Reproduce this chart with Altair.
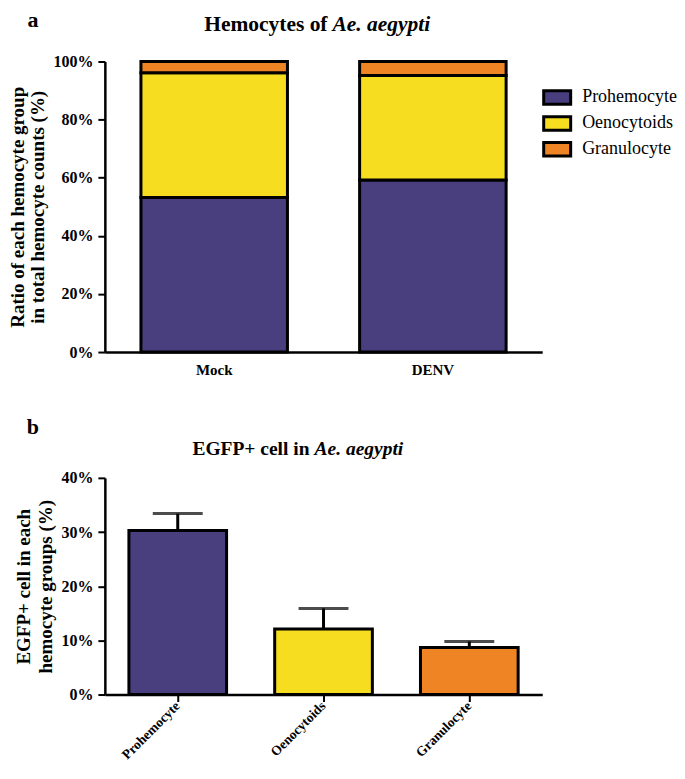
import altair as alt
import pandas as pd

# ---------------- data ----------------
groups = ["Mock", "DENV"]
cell_types = ["Prohemocyte", "Oenocytoids", "Granulocyte"]
mock_ratio = [0.532, 0.429, 0.039]
denv_ratio = [0.592, 0.360, 0.048]
egfp_mean = [0.303, 0.121, 0.087]
egfp_upper = [0.334, 0.159, 0.098]
colors = ["#493E7E", "#F6DD1F", "#EE8423"]

rows = []
for g, vals in zip(groups, [mock_ratio, denv_ratio]):
    for i, (c, v) in enumerate(zip(cell_types, vals)):
        rows.append({"group": g, "cell": c, "ratio": v, "order": i})
df_a = pd.DataFrame(rows)
df_b = pd.DataFrame({"cell": cell_types, "mean": egfp_mean, "upper": egfp_upper})
one = pd.DataFrame({"k": [0]})

FONT = "Liberation Serif"

color_scale = alt.Scale(domain=cell_types, range=colors)

y_axis_common = dict(
    grid=False, domainColor="black", domainWidth=2.5, tickColor="black",
    tickWidth=2, tickSize=7, labelFontSize=16, labelFontWeight="bold",
    labelColor="black", labelPadding=5, labelFont=FONT, titleFont=FONT,
    titleFontSize=19, titleFontWeight="bold",
    titleColor="black", titlePadding=5, format="%",
)

# ---------------- panel a ----------------
bars_a = alt.Chart(df_a).mark_bar(stroke="black", strokeWidth=3).encode(
    x=alt.X("group:N", sort=groups,
            scale=alt.Scale(paddingInner=0.33, paddingOuter=0.165),
            axis=alt.Axis(title=None, labelAngle=0, ticks=False, labelFontSize=15,
                          labelFontWeight="bold", labelColor="black", labelPadding=10,
                          labelFont=FONT, domainColor="black", domainWidth=2.5)),
    y=alt.Y("ratio:Q", stack="zero", scale=alt.Scale(domain=[0, 1]),
            axis=alt.Axis(values=[0, 0.2, 0.4, 0.6, 0.8, 1.0],
                          title=["Ratio of each hemocyte group", "in total hemocyte counts (%)"],
                          titleLineHeight=20, **y_axis_common)),
    color=alt.Color("cell:N", scale=color_scale, sort=cell_types,
                    legend=alt.Legend(title=None, orient="none", legendX=443, legendY=26,
                                      symbolType="M-1.6,-0.8H1.6V0.8H-1.6Z", symbolSize=285,
                                      symbolStrokeColor="black", symbolStrokeWidth=3,
                                      symbolOpacity=1, labelFontSize=18, labelColor="black",
                                      labelFont=FONT, labelOffset=15, rowPadding=0,
                                      padding=0)),
    order=alt.Order("order:Q"),
)

title_a1 = alt.Chart(one).mark_text(text="Hemocytes of", fontSize=21.5, fontWeight="bold",
                                    font=FONT, align="right", baseline="middle",
                                    color="black").encode(
    x=alt.value(223), y=alt.value(-37))
title_a2 = alt.Chart(one).mark_text(text="Ae. aegypti", fontSize=21.5, fontWeight="bold",
                                    font=FONT, fontStyle="italic", align="left",
                                    baseline="middle", color="black").encode(
    x=alt.value(228), y=alt.value(-37))
letter_a = alt.Chart(one).mark_text(text="a", fontSize=22, fontWeight="bold", font=FONT,
                                    align="center", baseline="middle", color="black").encode(
    x=alt.value(-72), y=alt.value(-42))

panel_a = alt.layer(bars_a, title_a1, title_a2, letter_a).properties(width=438, height=291)

# ---------------- panel b ----------------
x_b = alt.X("cell:N", sort=cell_types,
            scale=alt.Scale(paddingInner=0.33, paddingOuter=0.165),
            axis=alt.Axis(title=None, labelAngle=-45, ticks=True, tickSize=7, tickWidth=2,
                          tickColor="black", labelFontSize=13.5, labelFontWeight="bold",
                          labelColor="black", labelPadding=2, labelFont=FONT,
                          domainColor="black", domainWidth=2.5))

bars_b = alt.Chart(df_b).mark_bar(stroke="black", strokeWidth=3).encode(
    x=x_b,
    y=alt.Y("mean:Q", scale=alt.Scale(domain=[0, 0.4]),
            axis=alt.Axis(values=[0, 0.1, 0.2, 0.3, 0.4],
                          title=["EGFP+ cell in each", "hemocyte groups (%)"],
                          titleLineHeight=22, **y_axis_common)),
    color=alt.Color("cell:N", scale=color_scale, legend=None),
)
err_rule = alt.Chart(df_b).mark_rule(color="black", strokeWidth=3).encode(
    x=alt.X("cell:N", sort=cell_types), y="mean:Q", y2="upper:Q")
err_cap = alt.Chart(df_b).mark_tick(color="black", thickness=3, size=50,
                                    orient="horizontal").encode(
    x=alt.X("cell:N", sort=cell_types), y="upper:Q")

title_b1 = alt.Chart(one).mark_text(text="EGFP+ cell in", fontSize=19.5, fontWeight="bold",
                                    font=FONT, align="right", baseline="middle",
                                    color="black").encode(
    x=alt.value(205), y=alt.value(-29))
title_b2 = alt.Chart(one).mark_text(text="Ae. aegypti", fontSize=19.5, fontWeight="bold",
                                    font=FONT, fontStyle="italic", align="left",
                                    baseline="middle", color="black").encode(
    x=alt.value(210), y=alt.value(-29))
letter_b = alt.Chart(one).mark_text(text="b", fontSize=22, fontWeight="bold", font=FONT,
                                    align="center", baseline="middle", color="black").encode(
    x=alt.value(-72), y=alt.value(-51))

panel_b = alt.layer(err_rule, err_cap, bars_b, title_b1, title_b2, letter_b).properties(
    width=438, height=217)

chart = alt.vconcat(panel_a, panel_b, spacing=39).resolve_scale(
    color="independent").resolve_legend(color="independent").properties(
    padding={"left": 0, "top": 0, "right": 0, "bottom": 0}, background="white"
).configure_view(stroke=None).configure_axis(
    labelFont=FONT, titleFont=FONT
).configure_legend(labelFont=FONT).configure_text(font=FONT)

chart.save("out.html", embed_options={"renderer": "svg", "actions": False})
